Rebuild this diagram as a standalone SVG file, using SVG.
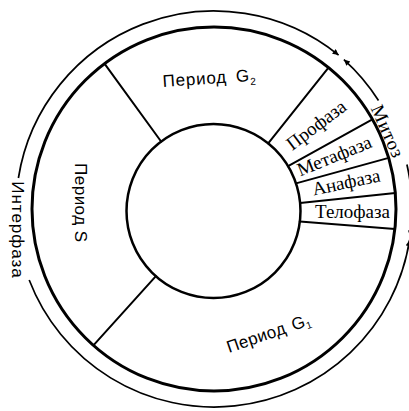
<svg xmlns="http://www.w3.org/2000/svg" width="409" height="411" viewBox="0 0 409 411">
  <style>
    .ring { fill: none; stroke: #000; }
    .div { stroke: #000; stroke-width: 2; stroke-linecap: round; fill: none; }
    .arc { fill: none; stroke: #000; stroke-width: 1.7; }
    .sans { font-family: "Liberation Sans", Arial, sans-serif; font-size: 17px; fill: #000; }
    .serif { font-family: "Liberation Serif", "Times New Roman", serif; font-size: 19px; fill: #000; }
    .sub { font-size: 10px; }
  </style>
  <defs>
    <marker id="ah" viewBox="0 0 10 10" refX="10" refY="5" markerWidth="10" markerHeight="6" markerUnits="userSpaceOnUse" orient="auto-start-reverse">
      <path d="M0,0 L10,5 L0,10 z" fill="#000"/>
    </marker>
  </defs>
  <rect width="409" height="411" fill="#fff"/>

  <g id="rings">
    <circle class="ring" cx="214" cy="209" r="182" stroke-width="3"/>
    <circle class="ring" cx="213.5" cy="211" r="87" stroke-width="2.5"/>
  </g>

  <g id="connectors">
    <line class="div" x1="161.1" y1="141.5" x2="104.5" y2="63.6"/>
    <line class="div" x1="155.9" y1="276.2" x2="93.4" y2="345.3"/>
    <line class="div" x1="268.2" y1="143.4" x2="328.5" y2="67.6"/>
    <line class="div" x1="288.1" y1="166.2" x2="372.4" y2="119.4"/>
    <line class="div" x1="296.0" y1="183.4" x2="388.7" y2="157.9"/>
    <line class="div" x1="300.1" y1="203.0" x2="395.3" y2="193.1"/>
    <line class="div" x1="299.8" y1="221.6" x2="394.9" y2="229.0"/>
    <g id="interphase-arc">
      <path class="arc" d="M409.6,240 A198,198 0 0 1 29.2,280" marker-start="url(#ah)"/>
      <path class="arc" d="M18.4,178 A198,198 0 0 1 338.6,55.1" marker-end="url(#ah)"/>
    </g>
    <g id="mitosis-arc">
      <path class="arc" d="M343.9,59.6 A198,198 0 0 1 378.5,100.5" marker-start="url(#ah)"/>
      <path class="arc" d="M406.9,164.5 A198,198 0 0 1 410.1,236.6" marker-end="url(#ah)"/>
    </g>
  </g>

  <g id="period-g2">
    <text class="sans" x="163" y="87" letter-spacing="0.8" transform="rotate(-4 163 87)">Период<tspan dx="9">G</tspan><tspan class="sub" dy="4">2</tspan></text>
  </g>
  <g id="period-s">
    <text class="sans" x="75" y="163" letter-spacing="0.5" transform="rotate(90 75 163)">Период S</text>
  </g>
  <g id="period-g1">
    <text class="sans" x="229" y="353" letter-spacing="0.3" transform="rotate(-19 229 353)">Период<tspan dx="7">G</tspan><tspan class="sub" dy="3">1</tspan></text>
  </g>
  <g id="interphase">
    <text class="sans" x="12" y="230" text-anchor="middle" letter-spacing="1" transform="rotate(90 12 230)">Интерфаза</text>
  </g>
  <g id="mitosis">
    <text class="serif" x="382" y="134" text-anchor="middle" font-size="16" letter-spacing="0.8" transform="rotate(66 382 134)">Митоз</text>
  </g>
  <g id="prophase">
    <text class="serif" x="320" y="130" text-anchor="middle" transform="rotate(-37 320 130)">Профаза</text>
  </g>
  <g id="metaphase">
    <text class="serif" x="336.7" y="161.7" text-anchor="middle" transform="rotate(-22 336.7 161.7)">Метафаза</text>
  </g>
  <g id="anaphase">
    <text class="serif" x="347.5" y="188.4" text-anchor="middle" transform="rotate(-12 347.5 188.4)">Анафаза</text>
  </g>
  <g id="telophase">
    <text class="serif" x="352.5" y="217.5" text-anchor="middle">Телофаза</text>
  </g>
</svg>
